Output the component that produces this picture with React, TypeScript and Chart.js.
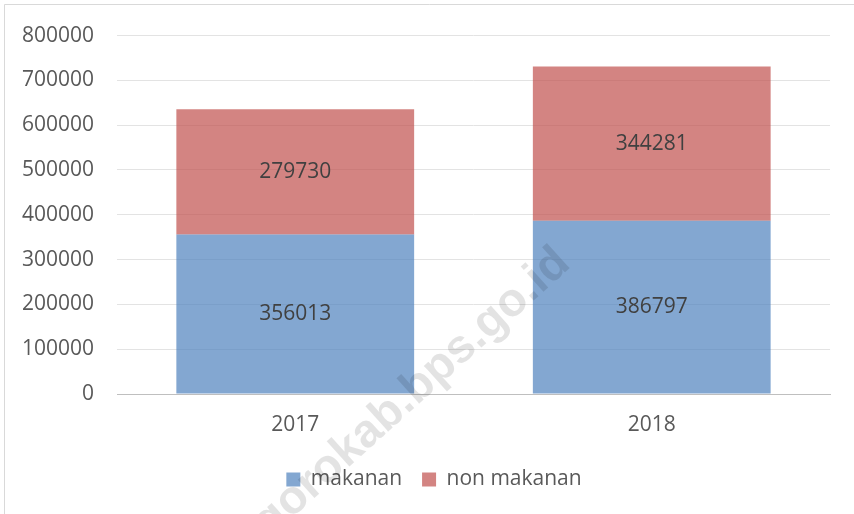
import React, { useEffect, useRef } from "react";
import { Chart, registerables } from "chart.js";

Chart.register(...registerables);

const categories = ["2017", "2018"];
const makanan = [356013, 386797];
const nonMakanan = [279730, 344281];
const seriesNames = ["makanan", "non makanan"];
const yMax = 800000;
const yStep = 100000;
const watermark = "gorokab.bps.go.id";

const FONT = "'Open Sans', 'Liberation Sans', sans-serif";

const framePlugin = {
  id: "frame",
  beforeDraw(chart: any) {
    const { ctx, width, height } = chart;
    ctx.save();
    ctx.fillStyle = "#ffffff";
    ctx.fillRect(0, 0, width, height);
    ctx.strokeStyle = "#d9d9d9";
    ctx.lineWidth = 1;
    ctx.beginPath();
    ctx.moveTo(4.5, height);
    ctx.lineTo(4.5, 4.5);
    ctx.lineTo(width, 4.5);
    ctx.stroke();
    ctx.restore();
  },
};

const legendShiftPlugin = {
  id: "legendShift",
  afterLayout(chart: any) {
    const lg = chart.legend;
    if (lg) {
      lg.left += 14;
      lg.right += 14;
    }
  },
};

const valueLabelPlugin = {
  id: "valueLabels",
  afterDatasetsDraw(chart: any) {
    const ctx = chart.ctx;
    ctx.save();
    ctx.font = `21px ${FONT}`;
    ctx.fillStyle = "#404040";
    ctx.textAlign = "center";
    ctx.textBaseline = "middle";
    chart.data.datasets.forEach((ds: any, i: number) => {
      chart.getDatasetMeta(i).data.forEach((el: any, j: number) => {
        const { x, y, base } = el.getProps(["x", "y", "base"], true);
        ctx.fillText(String(ds.data[j]), x, (y + base) / 2);
      });
    });
    ctx.restore();
  },
};

const watermarkPlugin = {
  id: "watermark",
  afterDraw(chart: any) {
    const ctx = chart.ctx;
    ctx.save();
    ctx.translate(572, 266);
    ctx.rotate((-42 * Math.PI) / 180);
    ctx.font = `bold 47px 'Liberation Sans', Arial, sans-serif`;
    ctx.fillStyle = "rgba(0,0,0,0.11)";
    ctx.textAlign = "right";
    ctx.textBaseline = "alphabetic";
    ctx.fillText(watermark, 0, 0);
    ctx.restore();
  },
};

export default function App() {
  const ref = useRef<HTMLCanvasElement>(null);

  useEffect(() => {
    if (!ref.current) return;
    const chart = new Chart(ref.current, {
      type: "bar",
      data: {
        labels: categories,
        datasets: [
          {
            label: seriesNames[0],
            data: makanan,
            backgroundColor: "rgba(79,129,189,0.7)",
            borderWidth: 0,
            barPercentage: 0.667,
            categoryPercentage: 1,
          },
          {
            label: seriesNames[1],
            data: nonMakanan,
            backgroundColor: "rgba(192,80,77,0.7)",
            borderWidth: 0,
            barPercentage: 0.667,
            categoryPercentage: 1,
          },
        ],
      },
      options: {
        animation: false,
        responsive: true,
        maintainAspectRatio: false,
        layout: { padding: { left: 10, right: 24, top: 34, bottom: 14 } },
        plugins: {
          tooltip: { enabled: false },
          legend: {
            position: "bottom",
            labels: {
              boxWidth: 14,
              boxHeight: 14,
              padding: 20,
              color: "#595959",
              font: { family: FONT, size: 21 },
            },
          },
        },
        scales: {
          x: {
            stacked: true,
            grid: { display: false, drawTicks: false },
            border: { display: true, color: "#bfbfbf", width: 1 },
            ticks: {
              color: "#595959",
              padding: 18,
              font: { family: FONT, size: 21 },
            },
            afterFit: (s: any) => {
              s.height = 55;
            },
          },
          y: {
            stacked: true,
            min: 0,
            max: yMax,
            grid: { color: "#e3e3e3", drawTicks: false },
            border: { display: false },
            ticks: {
              stepSize: yStep,
              color: "#595959",
              padding: 23,
              font: { family: FONT, size: 21 },
              callback: (v: any) => String(v),
            },
            afterFit: (s: any) => {
              s.width = 107;
            },
          },
        },
      },
      plugins: [framePlugin, legendShiftPlugin, valueLabelPlugin, watermarkPlugin],
    });
    return () => chart.destroy();
  }, []);

  return (
    <div style={{ position: "absolute", left: 0, top: 0, width: 854, height: 514 }}>
      <canvas ref={ref} />
    </div>
  );
}
